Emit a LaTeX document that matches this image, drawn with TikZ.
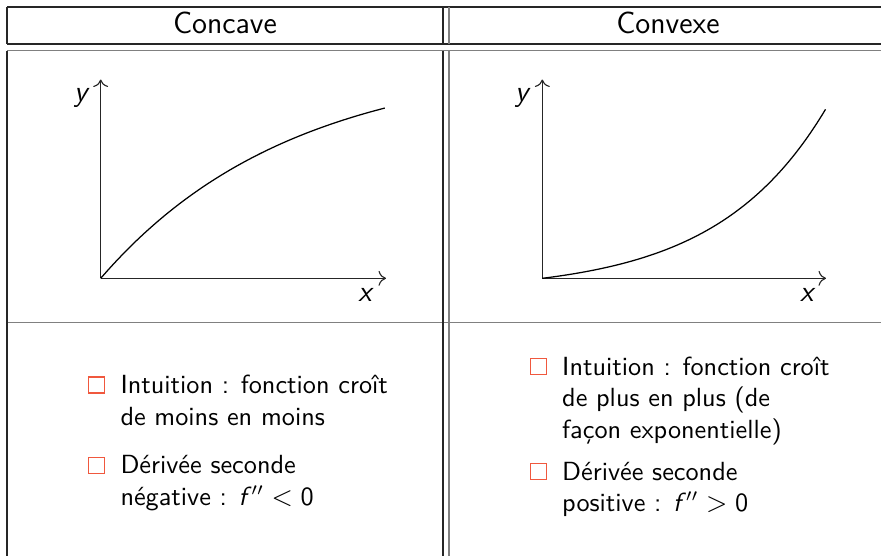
\documentclass[tikz,border=0pt]{standalone}
\usepackage{fontspec}
\usetikzlibrary{arrows.meta}
\definecolor{bul}{RGB}{240,88,62}
\begin{document}
\begin{tikzpicture}[x=0.4pt,y=-0.4pt,
  tblk/.style={draw=black!85,line width=0.75pt},
  tgray/.style={draw=black!50,line width=0.75pt},
  hdr/.style={font=\sffamily\fontsize{12.2}{14}\selectfont,inner sep=0pt,anchor=base},
  txt/.style={font=\sffamily\fontsize{10.5}{12.7}\selectfont,inner sep=0pt,anchor=base west},
  axlab/.style={font=\sffamily\itshape\fontsize{11.8}{13}\selectfont,inner sep=0pt},
  axis/.style={draw=black!85,line width=0.45pt,-{To[length=3pt,width=6pt]}},
  curve/.style={draw=black,line width=0.5pt},
  bulsq/.style={draw=bul,line width=0.6pt,minimum size=6.4pt,inner sep=0pt,fill=white}]
\useasboundingbox (0,0) rectangle (881,555);
% table lines
\coordinate (tl) at (7,7);
\coordinate (tr) at (895,7);
\coordinate (hl) at (7,44);
\coordinate (hr) at (895,44);
\coordinate (bl) at (7,50.5);
\coordinate (br) at (895,50.5);
\coordinate (ml) at (7,322.5);
\coordinate (mr) at (895,322.5);
\coordinate (el) at (7,570);
\coordinate (vt) at (443,7);
\coordinate (vh) at (443,44);
\coordinate (vb) at (443,50.5);
\coordinate (ve) at (443,570);
\coordinate (wt) at (449,7);
\coordinate (wh) at (449,44);
\coordinate (wb) at (449,50.5);
\coordinate (we) at (449,570);
\draw[tblk] (tl) -- (tr);
\draw[tblk] (hl) -- (hr);
\draw[tgray] (bl) -- (br);
\draw[tgray] (ml) -- (mr);
\draw[tblk] (tl) -- (hl);
\draw[tblk] (bl) -- (el);
\draw[tblk] (vt) -- (vh);
\draw[tblk] (vb) -- (ve);
\draw[tgray] (wt) -- (wh);
\draw[tgray] (wb) -- (we);
% headers
\node[hdr] (h1) at (225,33.5) {Concave};
\node[hdr] (h2) at (668,33.5) {Convexe};
% left graph
\coordinate (o1) at (100.7,278.3);
\coordinate (x1) at (386,278.3);
\coordinate (y1) at (100.7,79.5);
\draw[axis] (o1) -- (x1);
\draw[axis] (o1) -- (y1);
\draw[curve] plot[domain=0:1,samples=80] ({100.7+284.3*\x},{278.3-170.3*(1-exp(-1.5*\x))/(1-exp(-1.5))});
\node[axlab] (ly1) at (80.7,98.3) {y};
\node[axlab] (lx1) at (365,295) {x};
% right graph
\coordinate (o2) at (542.3,278.3);
\coordinate (x2) at (826,278.3);
\coordinate (y2) at (542.3,79.5);
\draw[axis] (o2) -- (x2);
\draw[axis] (o2) -- (y2);
\draw[curve] plot[domain=0:1,samples=80] ({542.3+283.4*\x},{278.3-169.3*(exp(2.6*\x)-1)/(exp(2.6)-1)});
\node[axlab] (ly2) at (521.7,98.3) {y};
\node[axlab] (lx2) at (806.7,295) {x};
% left bullets
\node[bulsq] (lb1) at (96.7,385) {};
\node[txt] (lt1) at (120,393.3) {Intuition : fonction croît};
\node[txt] (lt2) at (120,425) {de moins en moins};
\node[bulsq] (lb2) at (96.7,465.5) {};
\node[txt] (lt3) at (120,473.3) {Dérivée seconde};
\node[txt] (lt4) at (120,505) {négative : $\textit{f}\,''<\textsf{0}$};
% right bullets
\node[bulsq] (rb1) at (538.3,366.7) {};
\node[txt] (rt1) at (561.7,375) {Intuition : fonction croît};
\node[txt] (rt2) at (561.7,406.7) {de plus en plus (de};
\node[txt] (rt3) at (561.7,438.3) {façon exponentielle)};
\node[bulsq] (rb2) at (538.3,471.7) {};
\node[txt] (rt4) at (561.7,480) {Dérivée seconde};
\node[txt] (rt5) at (561.7,511.7) {positive : $\textit{f}\,''>\textsf{0}$};
\end{tikzpicture}
\end{document}
